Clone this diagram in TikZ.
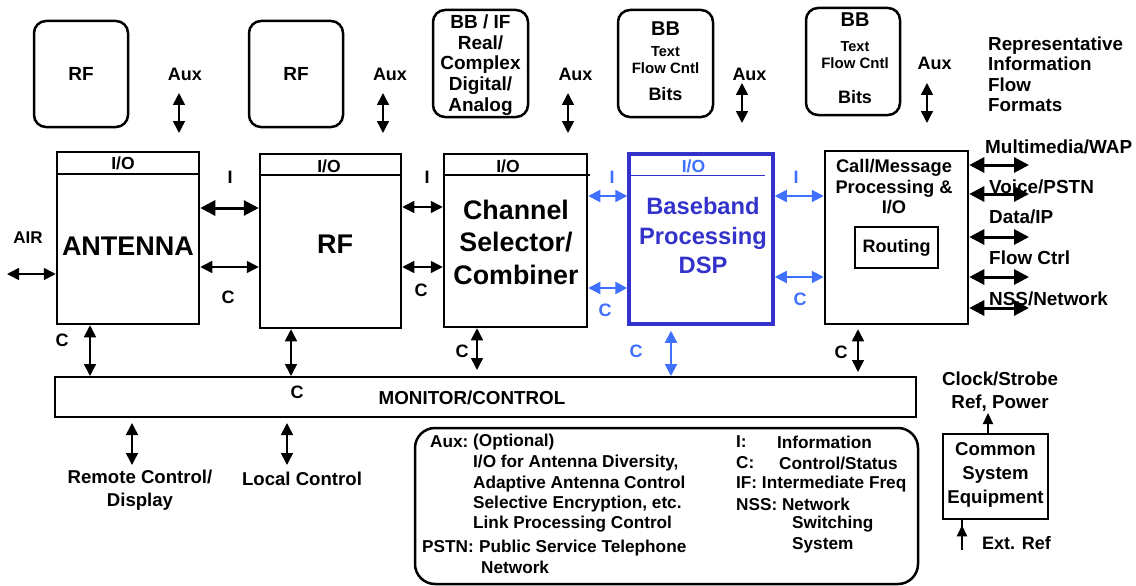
\documentclass[tikz,border=0pt]{standalone}
\usepackage{fontspec}
\setmainfont{Liberation Sans}
\usetikzlibrary{arrows.meta}
\definecolor{bbblue}{RGB}{51,51,204}
\definecolor{arblue}{RGB}{64,112,255}
\newcommand\fsz[2]{\fontsize{#1}{#2}\selectfont\bfseries}
\begin{document}
\begin{tikzpicture}[x=1pt,y=-1pt,
  box/.style={draw, line width=2.5pt, inner sep=0pt},
  rbox/.style={draw, line width=2.5pt, rounded corners=12pt, inner sep=0pt},
  txt/.style={inner sep=0pt, align=center},
  lt/.style={inner sep=0pt, anchor=west, align=left},
  small/.style={txt, font=\fsz{18}{20}},
  big/.style={txt, font=\fsz{27}{32}},
  leg/.style={lt, font=\fsz{17.2}{20}},
  medarr/.style={line width=1.6pt, {Triangle[length=12pt,width=12pt]}-{Triangle[length=12pt,width=12pt]}},
  thickarr/.style={line width=3pt, {Triangle[length=15pt,width=15pt]}-{Triangle[length=15pt,width=15pt]}},
  bluearr/.style={arblue, line width=2pt, {Triangle[length=12pt,width=12pt]}-{Triangle[length=12pt,width=12pt]}},
  uparr/.style={line width=2pt, -{Triangle[length=11pt,width=10pt]}}
]
\useasboundingbox (0,0) rectangle (1136,586);

% ---------- top rounded format boxes ----------
\node[rbox, minimum width=94pt, minimum height=106pt] (rf1) at (81,74) {};
\node[txt, font=\fsz{19}{22}] (rf1t) at (81,74) {RF};
\node[rbox, minimum width=94pt, minimum height=106pt] (rf2) at (296,74) {};
\node[txt, font=\fsz{19}{22}] (rf2t) at (296,74) {RF};
\node[rbox, minimum width=95pt, minimum height=107pt] (bbif) at (480.5,63.5) {};
\node[txt, font=\fsz{19}{20.7}] (bbift) at (480.5,65) {BB / IF\\Real/\\Complex\\Digital/\\Analog};
\node[rbox, minimum width=95pt, minimum height=107pt] (bb1) at (665.5,63.5) {};
\node[txt, font=\fsz{20}{22}] (bb1a) at (665.5,29) {BB};
\node[txt, font=\fsz{14.5}{16}] (bb1b) at (665.5,52) {Text};
\node[txt, font=\fsz{15}{16}] (bb1c) at (665.5,68) {Flow Cntl};
\node[txt, font=\fsz{18}{20}] (bb1d) at (665.5,94) {Bits};
\node[rbox, minimum width=94pt, minimum height=107pt] (bb2) at (853,61.5) {};
\node[txt, font=\fsz{20}{22}] (bb2a) at (855,20) {BB};
\node[txt, font=\fsz{14.5}{16}] (bb2b) at (855,47) {Text};
\node[txt, font=\fsz{15}{16}] (bb2c) at (855,63) {Flow Cntl};
\node[txt, font=\fsz{18}{20}] (bb2d) at (855,97) {Bits};

% Aux labels and arrows
\node[small] (aux1) at (185,74) {Aux};
\node[small] (aux2) at (390,74) {Aux};
\node[small] (aux3) at (575.5,74) {Aux};
\node[small] (aux4) at (749.5,74) {Aux};
\node[small] (aux5) at (934.5,63) {Aux};
\coordinate (a1t) at (179,93);  \coordinate (a1b) at (179,133);
\coordinate (a2t) at (383,93);  \coordinate (a2b) at (383,133);
\coordinate (a3t) at (568,93);  \coordinate (a3b) at (568,133);
\coordinate (a4t) at (742,83);  \coordinate (a4b) at (742,123);
\coordinate (a5t) at (927,83);  \coordinate (a5b) at (927,123);
\foreach \p in {1,...,5}{\draw[medarr] (a\p t) -- (a\p b);}

\node[lt, font=\fsz{18.8}{20.5}] (repr) at (988,74.5) {Representative\\Information\\Flow\\Formats};

% ---------- main processing chain ----------
\node[box, minimum width=142pt, minimum height=172pt] (ant) at (128,238) {};
\draw[line width=2.5pt] (ant.west |- 0,174) -- (ant.east |- 0,174);
\node[small, font=\fsz{17.5}{20}] (antio) at (123,163) {I/O};
\node[big] (antt) at (128,246) {ANTENNA};

\node[box, minimum width=141pt, minimum height=174pt] (rfm) at (330.5,241) {};
\draw[line width=2.5pt] (rfm.west |- 0,175) -- (rfm.east |- 0,175);
\node[small, font=\fsz{17.5}{20}] (rfio) at (329,166) {I/O};
\node[big] (rft) at (335,244) {RF};

\node[box, minimum width=143pt, minimum height=173pt] (chan) at (515.5,240.5) {};
\draw[line width=2.5pt] (chan.west |- 0,175) -- ([xshift=2pt]chan.east |- 0,175);
\node[small, font=\fsz{17.5}{20}] (chanio) at (508,166) {I/O};
\node[big, font=\fsz{26.8}{32.5}] (chant) at (516,242) {Channel\\Selector/\\Combiner};

\node[draw=bbblue, line width=3.5pt, inner sep=0pt, minimum width=144pt, minimum height=170pt] (bbp) at (701,239) {};
\draw[bbblue, line width=1pt] ([xshift=2pt]bbp.west |- 0,175) -- ([xshift=-10pt]bbp.east |- 0,175);
\node[small, font=\fsz{17.5}{20}, text=arblue] (bbpio) at (693.5,166) {I/O};
\node[txt, font=\fsz{23.7}{29.5}, text=bbblue] (bbpt) at (703,236) {Baseband\\Processing\\DSP};

\node[box, minimum width=143pt, minimum height=173pt] (call) at (896.5,237.5) {};
\node[txt, font=\fsz{18.3}{20.5}] (callt) at (894,187) {Call/Message\\Processing \&\\I/O};
\node[draw, line width=2pt, inner sep=0pt, minimum width=83pt, minimum height=41pt] (rout) at (896.5,247.5) {};
\node[txt, font=\fsz{18}{20}] (routt) at (896.5,248) {Routing};

% AIR
\node[txt, font=\fsz{17}{20}] (air) at (28,238) {AIR};
\coordinate (airl) at (7,274);
\draw[medarr] (airl) -- (ant.west |- 0,274);

% antenna <-> RF
\draw[thickarr] (ant.east |- 0,208) -- (rfm.west |- 0,208);
\draw[medarr] (ant.east |- 0,267) -- (rfm.west |- 0,267);
\node[small] (i1) at (230,177) {I};
\node[small] (c1) at (228,297) {C};

% RF <-> channel
\draw[medarr] (rfm.east |- 0,207) -- (chan.west |- 0,207);
\draw[medarr] (rfm.east |- 0,267) -- (chan.west |- 0,267);
\node[small] (i2) at (427,177) {I};
\node[small] (c2) at (421,290) {C};

% channel <-> baseband (blue)
\draw[bluearr] (chan.east |- 0,196) -- (bbp.west |- 0,196);
\draw[bluearr] (chan.east |- 0,288) -- (bbp.west |- 0,288);
\node[small, text=arblue] (i3) at (612,177) {I};
\node[small, text=arblue] (c3) at (605,310) {C};

% baseband <-> call (blue)
\draw[bluearr] (bbp.east |- 0,196) -- (call.west |- 0,196);
\draw[bluearr] (bbp.east |- 0,277) -- (call.west |- 0,277);
\node[small, text=arblue] (i4) at (796,177) {I};
\node[small, text=arblue] (c4) at (800,299) {C};

% right side formats
\foreach \yy/\nm in {165/r1,194/r2,237/r3,277/r4,308/r5}{
  \coordinate (\nm) at (1029,\yy);
  \draw[thickarr] (call.east |- 0,\yy) -- (\nm);
}
\node[lt, font=\fsz{18.9}{20}] (mm) at (985,147) {Multimedia/WAP};
\node[lt, font=\fsz{18.9}{20}] (vp) at (989,187) {Voice/PSTN};
\node[lt, font=\fsz{18.9}{20}] (dip) at (989,217) {Data/IP};
\node[lt, font=\fsz{18.9}{20}] (fc) at (989,258) {Flow Ctrl};
\node[lt, font=\fsz{18.9}{20}] (nss) at (989,299) {NSS/Network};

% ---------- monitor / control ----------
\node[draw, line width=2pt, inner sep=0pt, minimum width=861pt, minimum height=40pt] (mon) at (485.5,397) {};
\node[txt, font=\fsz{18.8}{20}] (mont) at (472,398) {MONITOR/CONTROL};

\draw[medarr] (ant.south -| 90,0) -- (mon.north -| 90,0);
\draw[medarr] (rfm.south -| 291,0) -- (mon.north -| 291,0);
\coordinate (chb) at (477,370);
\draw[medarr] (chan.south -| 477,0) -- (chb);
\draw[bluearr] (bbp.south -| 671,0) ++(0,5) -- (mon.north -| 671,0);
\coordinate (cab) at (858,372);
\draw[medarr] (call.south -| 858,0) ++(0,4) -- (cab);
\node[small] (c5) at (62,340) {C};
\node[small] (c6) at (297,392) {C};
\node[small] (c7) at (462,351) {C};
\node[small, text=arblue] (c8) at (636,351) {C};
\node[small] (c9) at (841,352) {C};

\coordinate (rc) at (132,465);
\coordinate (lc) at (287,465);
\draw[medarr] (mon.south -| 132,0) ++(0,5) -- (rc);
\draw[medarr] (mon.south -| 287,0) ++(0,5) -- (lc);
\node[txt, font=\fsz{18.6}{23}] (rct) at (140,490) {Remote Control/\\Display};
\node[txt, font=\fsz{18.6}{23}] (lct) at (302,479) {Local Control};

% ---------- legend ----------
\draw[line width=2.5pt, rounded corners=20pt] (415,428) rectangle (918,584);
\node[leg] (l1) at (430,442) {Aux:};
\node[leg] (l2) at (473,442) {(Optional)};
\node[leg] (l3) at (473,463) {I/O for Antenna Diversity,};
\node[leg] (l4) at (473,484) {Adaptive Antenna Control};
\node[leg] (l5) at (473,504) {Selective Encryption, etc.};
\node[leg] (l6) at (473,524) {Link Processing Control};
\node[leg] (l7) at (422,547) {PSTN:};
\node[leg] (l8) at (479,548) {Public Service Telephone};
\node[leg] (l9) at (481,567) {Network};
\node[leg] (r1t) at (736,442) {I:};
\node[leg] (r1u) at (777,442) {Information};
\node[leg] (r2t) at (736,463) {C:};
\node[leg] (r2u) at (779,463) {Control/Status};
\node[leg] (r3t) at (736,484) {IF: Intermediate Freq};
\node[leg] (r4t) at (736,504) {NSS: Network};
\node[leg] (r5t) at (792,524) {Switching};
\node[leg] (r6t) at (792,545) {System};

% ---------- common system equipment ----------
\node[draw, line width=2.5pt, inner sep=0pt, minimum width=105pt, minimum height=85pt] (cse) at (995.5,476.5) {};
\node[txt, font=\fsz{18.6}{24}] (cset) at (995.5,475) {Common\\System\\Equipment};
\coordinate (clk) at (988,413);
\draw[uparr] (cse.north -| 988,0) -- (clk);
\node[txt, font=\fsz{18.8}{23}] (clkt) at (1000,391.5) {Clock/Strobe\\Ref, Power};
\coordinate (ext) at (962,550);
\draw[uparr] (ext) -- (cse.south -| 962,0) ++(0,5);
\node[lt, font=\fsz{18}{20}] (extt) at (982,543) {Ext. Ref};
\end{tikzpicture}
\end{document}
